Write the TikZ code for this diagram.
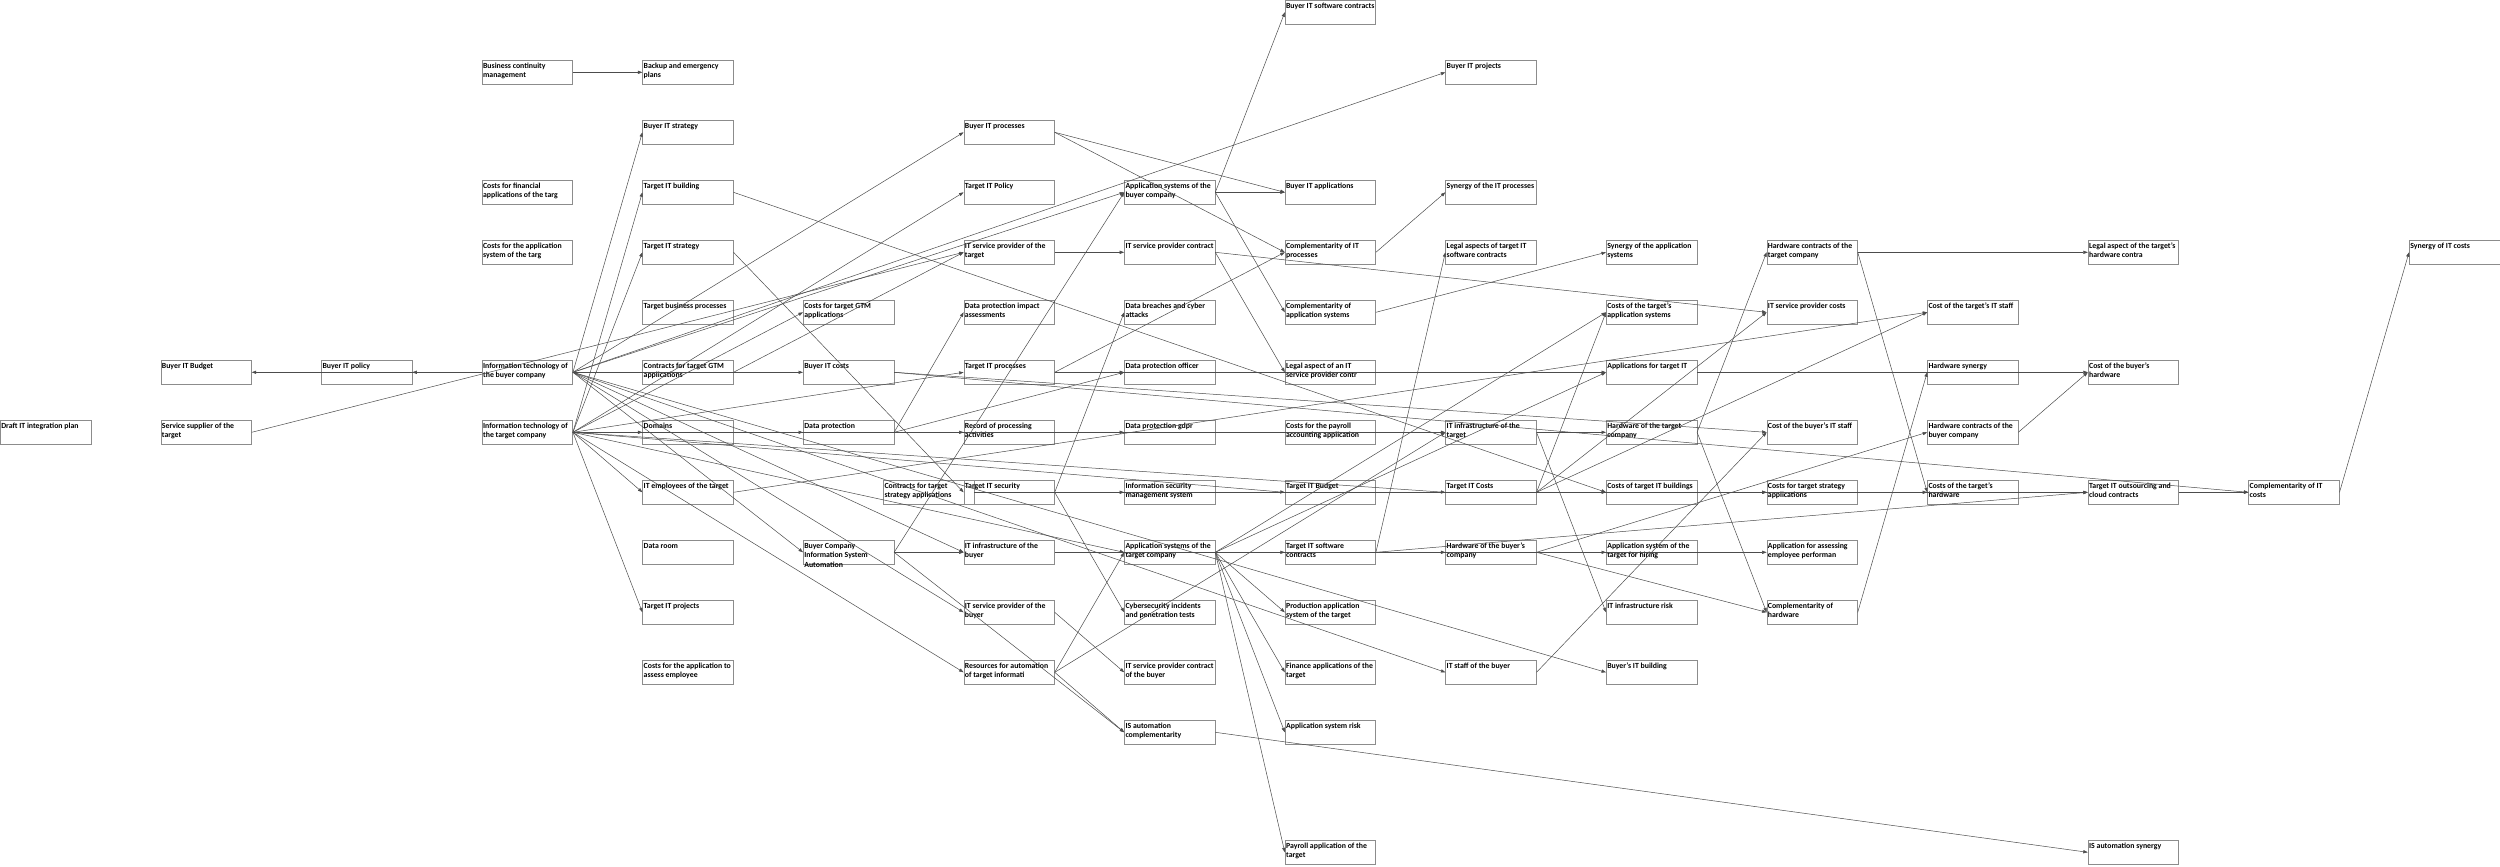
\documentclass[tikz,border=0pt]{standalone}
\usepackage{fontspec}
\setmainfont{Carlito}
\usetikzlibrary{arrows.meta}
\newcommand{\boxtext}[1]{\parbox[t][22pt][t]{88.5pt}{\raggedright\rule{0pt}{7.2pt}#1}}
\newcommand{\mk}[4]{\node[box] (#1) at ({160.6*#2},{60*#3}) {\boxtext{#4}};}
\tikzset{
  box/.style={draw=black!45, line width=0.6pt, anchor=north west, inner sep=1pt,
    font=\bfseries\fontsize{7.8}{9.3}\selectfont},
  edge/.style={draw=black!70, line width=0.5pt, -{Triangle[length=4.5pt,width=3.2pt]}},
}
\begin{document}
\begin{tikzpicture}[x=1pt,y=-1pt]
\useasboundingbox (0,0) rectangle (2500,867);
\fill[white] (0,0) rectangle (2500,867);
% column 0-3
\mk{draft}{0}{7}{Draft IT integration plan}
\mk{bbudget}{1}{6}{Buyer IT Budget}
\mk{ssupp}{1}{7}{Service supplier of the\\target}
\mk{bpolicy}{2}{6}{Buyer IT policy}
\mk{bcm}{3}{1}{Business continuity\\management}
\mk{cfin}{3}{3}{Costs for financial\\applications of the targ}
\mk{capp}{3}{4}{Costs for the application\\system of the targ}
\mk{itb}{3}{6}{Information technology of\\the buyer company}
\mk{itt}{3}{7}{Information technology of\\the target company}
% column 4
\mk{backup}{4}{1}{Backup and emergency\\plans}
\mk{bstrat}{4}{2}{Buyer IT strategy}
\mk{tbuild}{4}{3}{Target IT building}
\mk{tstrat}{4}{4}{Target IT strategy}
\mk{tbp}{4}{5}{Target business processes}
\mk{ctgtm}{4}{6}{Contracts for target GTM\\applications}
\mk{domains}{4}{7}{Domains}
\mk{itemp}{4}{8}{IT employees of the target}
\mk{droom}{4}{9}{Data room}
\mk{tproj}{4}{10}{Target IT projects}
\mk{cassess}{4}{11}{Costs for the application to\\assess employee}
% column 5
\mk{cgtm}{5}{5}{Costs for target GTM\\applications}
\mk{bcosts}{5}{6}{Buyer IT costs}
\mk{dp}{5}{7}{Data protection}
\mk{bcisa}{5}{9}{Buyer Company\\Information System\\Automation}
\mk{ctsa}{5.5}{8}{Contracts for target\\strategy applications}
% column 6
\mk{bproc}{6}{2}{Buyer IT processes}
\mk{tpolicy}{6}{3}{Target IT Policy}
\mk{itspt}{6}{4}{IT service provider of the\\target}
\mk{dpia}{6}{5}{Data protection impact\\assessments}
\mk{tproc}{6}{6}{Target IT processes}
\mk{ropa}{6}{7}{Record of processing\\activities}
\mk{tsec}{6}{8}{Target IT security}
\mk{itib}{6}{9}{IT infrastructure of the\\buyer}
\mk{itspb}{6}{10}{IT service provider of the\\buyer}
\mk{rauto}{6}{11}{Resources for automation\\of target informati}
% column 7
\mk{asb}{7}{3}{Application systems of the\\buyer company}
\mk{itspc}{7}{4}{IT service provider contract}
\mk{dbca}{7}{5}{Data breaches and cyber\\attacks}
\mk{dpo}{7}{6}{Data protection officer}
\mk{gdpr}{7}{7}{Data protection gdpr}
\mk{isms}{7}{8}{Information security\\management system}
\mk{ast}{7}{9}{Application systems of the\\target company}
\mk{cipt}{7}{10}{Cybersecurity incidents\\and penetration tests}
\mk{itspcb}{7}{11}{IT service provider contract\\of the buyer}
\mk{isac}{7}{12}{IS automation\\complementarity}
% column 8
\mk{bswc}{8}{0}{Buyer IT software contracts}
\mk{bapps}{8}{3}{Buyer IT applications}
\mk{citp}{8}{4}{Complementarity of IT\\processes}
\mk{cas}{8}{5}{Complementarity of\\application systems}
\mk{legitsp}{8}{6}{Legal aspect of an IT\\service provider contr}
\mk{cpay}{8}{7}{Costs for the payroll\\accounting application}
\mk{tbudget}{8}{8}{Target IT Budget}
\mk{tswc}{8}{9}{Target IT software\\contracts}
\mk{pas}{8}{10}{Production application\\system of the target}
\mk{fat}{8}{11}{Finance applications of the\\target}
\mk{asrisk}{8}{12}{Application system risk}
\mk{pat}{8}{14}{Payroll application of the\\target}
% column 9
\mk{bproj}{9}{1}{Buyer IT projects}
\mk{sitp}{9}{3}{Synergy of the IT processes}
\mk{legtsw}{9}{4}{Legal aspects of target IT\\software contracts}
\mk{itit}{9}{7}{IT infrastructure of the\\target}
\mk{tcosts}{9}{8}{Target IT Costs}
\mk{hwb}{9}{9}{Hardware of the buyer's\\company}
\mk{itsb}{9}{11}{IT staff of the buyer}
% column 10
\mk{sas}{10}{4}{Synergy of the application\\systems}
\mk{ctas}{10}{5}{Costs of the target's\\application systems}
\mk{aftit}{10}{6}{Applications for target IT}
\mk{hwt}{10}{7}{Hardware of the target\\company}
\mk{ctib}{10}{8}{Costs of target IT buildings}
\mk{asth}{10}{9}{Application system of the\\target for hiring}
\mk{itir}{10}{10}{IT infrastructure risk}
\mk{bitb}{10}{11}{Buyer's IT building}
% column 11
\mk{hwct}{11}{4}{Hardware contracts of the\\target company}
\mk{itspcost}{11}{5}{IT service provider costs}
\mk{cbits}{11}{7}{Cost of the buyer's IT staff}
\mk{ctsap}{11}{8}{Costs for target strategy\\applications}
\mk{aaep}{11}{9}{Application for assessing\\employee performan}
\mk{chw}{11}{10}{Complementarity of\\hardware}
% column 12
\mk{ctits}{12}{5}{Cost of the target's IT staff}
\mk{hwsyn}{12}{6}{Hardware synergy}
\mk{hwcb}{12}{7}{Hardware contracts of the\\buyer company}
\mk{cthw}{12}{8}{Costs of the target's\\hardware}
% column 13-15
\mk{legthw}{13}{4}{Legal aspect of the target's\\hardware contra}
\mk{cbhw}{13}{6}{Cost of the buyer's\\hardware}
\mk{tocc}{13}{8}{Target IT outsourcing and\\cloud contracts}
\mk{isas}{13}{14}{IS automation synergy}
\mk{citc}{14}{8}{Complementarity of IT\\costs}
\mk{sitc}{15}{4}{Synergy of IT costs}
% edges
\draw[edge] (bcm.east) -- (backup.west);
\draw[edge] (itb.west) -- (bpolicy.east);
\draw[edge] (itb.west) -- (bbudget.east);
\draw[edge] (ssupp.east) -- (itspt.west);
\foreach \t in {bstrat,bproc,asb,bproj,bcosts,itspb,itib,bcisa,itsb,bitb}
  \draw[edge] (itb.east) -- (\t.west);
\foreach \t in {tbuild,tstrat,tpolicy,cgtm,domains,dp,itemp,tproj,rauto,tproc,itit,tcosts,tbudget,ast}
  \draw[edge] (itt.east) -- (\t.west);
\draw[edge] (tbuild.east) -- (ctib.west);
\draw[edge] (tstrat.east) -- (tsec.west);
\draw[edge] (ctgtm.east) -- (itspt.west);
\draw[edge] (itemp.east) -- (ctits.west);
\draw[edge] (bproc.east) -- (bapps.west);
\draw[edge] (bproc.east) -- (citp.west);
\draw[edge] (asb.east) -- (bswc.west);
\draw[edge] (asb.east) -- (bapps.west);
\draw[edge] (asb.east) -- (cas.west);
\draw[edge] (itspt.east) -- (itspc.west);
\draw[edge] (itspc.east) -- (legitsp.west);
\draw[edge] (itspc.east) -- (itspcost.west);
\draw[edge] (citp.east) -- (sitp.west);
\draw[edge] (cas.east) -- (sas.west);
\draw[edge] (tproc.east) -- (citp.west);
\draw[edge] (tproc.east) -- (dpo.west);
\draw[edge] (tproc.east) -- (aftit.west);
\draw[edge] (dp.east) -- (dpia.west);
\draw[edge] (dp.east) -- (ropa.west);
\draw[edge] (dp.east) -- (gdpr.west);
\draw[edge] (dp.east) -- (dpo.west);
\draw[edge] (tsec.east) -- (isms.west);
\draw[edge] (tsec.east) -- (dbca.west);
\draw[edge] (tsec.east) -- (cipt.west);
\draw[edge] (ctsa.east) -- (ctsap.west);
\draw[edge] (bcisa.east) -- (itib.west);
\draw[edge] (bcisa.east) -- (asb.west);
\draw[edge] (bcisa.east) -- (isac.west);
\draw[edge] (itib.east) -- (hwb.west);
\draw[edge] (rauto.east) -- (isac.west);
\draw[edge] (rauto.east) -- (ast.west);
\draw[edge] (rauto.east) -- (itit.west);
\draw[edge] (itspb.east) -- (itspcb.west);
\draw[edge] (isac.east) -- (isas.west);
\foreach \t in {pas,fat,asrisk,pat,ctas,aftit,tswc,asth,aaep}
  \draw[edge] (ast.east) -- (\t.west);
\draw[edge] (bcosts.east) -- (cbits.west);
\draw[edge] (bcosts.east) -- (citc.west);
\draw[edge] (tswc.east) -- (tocc.west);
\draw[edge] (tswc.east) -- (legtsw.west);
\foreach \t in {ctib,ctsap,cthw,tocc,ctits,ctas,itspcost}
  \draw[edge] (tcosts.east) -- (\t.west);
\draw[edge] (itit.east) -- (hwt.west);
\draw[edge] (itit.east) -- (itir.west);
\draw[edge] (itsb.east) -- (cbits.west);
\draw[edge] (hwt.east) -- (hwct.west);
\draw[edge] (hwt.east) -- (chw.west);
\draw[edge] (hwb.east) -- (chw.west);
\draw[edge] (hwb.east) -- (hwcb.west);
\draw[edge] (chw.east) -- (hwsyn.west);
\draw[edge] (hwcb.east) -- (cbhw.west);
\draw[edge] (aftit.east) -- (cbhw.west);
\draw[edge] (hwct.east) -- (legthw.west);
\draw[edge] (hwct.east) -- (cthw.west);
\draw[edge] (tocc.east) -- (citc.west);
\draw[edge] (citc.east) -- (sitc.west);
\end{tikzpicture}
\end{document}
